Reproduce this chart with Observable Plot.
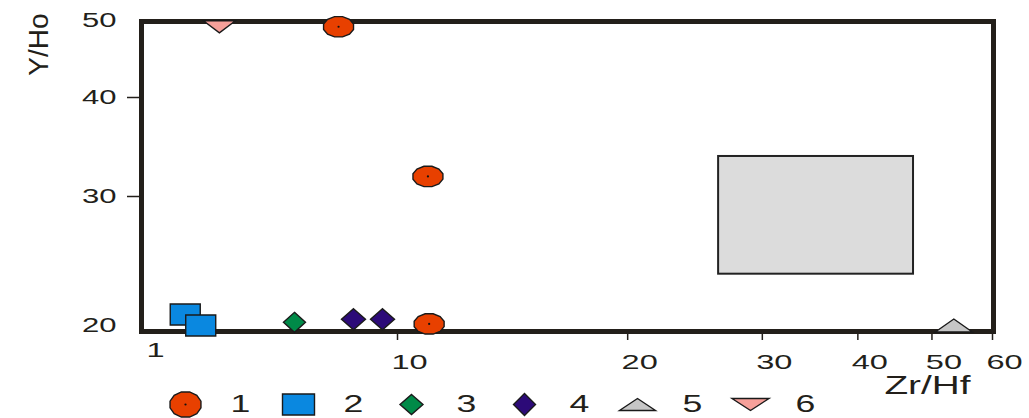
<!DOCTYPE html>
<html>
<head>
<meta charset="utf-8">
<script src="https://cdn.jsdelivr.net/npm/d3@7"></script>
<script src="https://cdn.jsdelivr.net/npm/@observablehq/plot@0.6"></script>
<style>
  body { margin: 0; background: #fff; }
  #wrap { position: relative; width: 1029px; height: 418px; overflow: hidden; }
  #legend { position: absolute; left: 0; top: 380px; }
</style>
</head>
<body>
<div id="wrap"><div id="main"></div><div id="legend"></div></div>
<script>
// ---- data ----
const seriesNames = ["1", "2", "3", "4", "5", "6"];
const zrHf1 = [5.86, 10.96, 11.0];
const yHo1  = [49.1, 31.8, 20.1];
const zrHf2 = [1.46, 1.68];
const yHo2  = [20.7, 20.0];
const zrHf3 = [3.93];
const yHo3  = [20.2];
const zrHf4 = [6.71, 8.73];
const yHo4  = [20.4, 20.4];
const zrHf5 = [53.4];
const yHo5  = [20.0];
const zrHf6 = [1.99];
const yHo6  = [49.1];
// grey reference field
const fieldZrHf = [26.3, 47.3];
const fieldYHo  = [23.5, 33.7];
// axis ticks
const xTickValues = [1, 10, 20, 30, 40, 50, 60];
const yTickValues = [20, 30, 40, 50];

// ---- symbols ----
function ellipseSym(w, h) {
  return {draw(ctx) {
    const n = 12;
    for (let i = 0; i < n; ++i) {
      const a = (2 * Math.PI * (i + 0.5)) / n;
      const x = (w / 2) * Math.cos(a), y = (h / 2) * Math.sin(a);
      i ? ctx.lineTo(x, y) : ctx.moveTo(x, y);
    }
    ctx.closePath();
  }};
}
function rectSym(w, h) {
  return {draw(ctx) { ctx.moveTo(-w/2, -h/2); ctx.lineTo(w/2, -h/2); ctx.lineTo(w/2, h/2); ctx.lineTo(-w/2, h/2); ctx.closePath(); }};
}
function diamondSym(w, h) {
  return {draw(ctx) { ctx.moveTo(0, -h/2); ctx.lineTo(w/2, 0); ctx.lineTo(0, h/2); ctx.lineTo(-w/2, 0); ctx.closePath(); }};
}
function triUpSym(w, h) {
  return {draw(ctx) { ctx.moveTo(0, -h/2); ctx.lineTo(w/2, h/2); ctx.lineTo(-w/2, h/2); ctx.closePath(); }};
}
function triDownSym(w, h) {
  return {draw(ctx) { ctx.moveTo(-w/2, -h/2); ctx.lineTo(w/2, -h/2); ctx.lineTo(0, h/2); ctx.closePath(); }};
}

const styles = {
  "1": {fill: "#e84000", sym: ellipseSym(31, 21), lsym: ellipseSym(32, 26)},
  "2": {fill: "#0a88e0", sym: rectSym(30, 21), lsym: rectSym(32, 21)},
  "3": {fill: "#008a48", sym: diamondSym(22, 20), lsym: diamondSym(23, 20)},
  "4": {fill: "#2c0a78", sym: diamondSym(24, 21), lsym: diamondSym(22, 22)},
  "5": {fill: "#c6c6c6", sym: triUpSym(37, 13), lsym: triUpSym(36, 12)},
  "6": {fill: "#f6a09a", sym: triDownSym(32, 12), lsym: triDownSym(37, 12)}
};

const xs = [zrHf1, zrHf2, zrHf3, zrHf4, zrHf5, zrHf6];
const ys = [yHo1, yHo2, yHo3, yHo4, yHo5, yHo6];
const series = seriesNames.map((name, k) => ({
  name, rows: xs[k].map((x, i) => ({zrHf: x, yHo: ys[k][i]}))
}));
const field = [{x1: fieldZrHf[0], x2: fieldZrHf[1], y1: fieldYHo[0], y2: fieldYHo[1]}];

const ink = "#231f1a";
const font = "'Liberation Sans', Arial, sans-serif";

const main = Plot.plot({
  width: 1029,
  height: 418,
  marginLeft: 141,
  marginRight: 36,
  marginTop: 21,
  marginBottom: 87,
  style: {fontFamily: font, color: ink, background: "white", overflow: "visible"},
  x: {type: "log", domain: [1, 10, 60], range: [143, 397, 992], axis: null},
  y: {type: "log", domain: [20, 30, 40, 50], range: [325, 196, 97, 20], axis: null},
  marks: [
    Plot.rect(field, {x1: "x1", x2: "x2", y1: "y1", y2: "y2", fill: "#dcdcdc", stroke: "#222", strokeWidth: 2}),
    Plot.frame({stroke: ink, strokeWidth: 5}),
    // y axis
    Plot.axisY([30, 40], {tickSize: 14, tickFormat: () => "", stroke: ink, strokeWidth: 1.5}),
    Plot.axisY(yTickValues, {tickSize: 0, tickPadding: 25, fontSize: 20, fill: ink, tickFormat: d => String(d)}),
    // x axis
    Plot.axisX(xTickValues.slice(1), {anchor: "bottom", tickSize: 9, tickFormat: () => "", stroke: ink, strokeWidth: 1.5}),
    Plot.axisX(xTickValues.slice(1), {anchor: "bottom", tickSize: 0, tickPadding: 23, dx: 12, fontSize: 21, fill: ink, tickFormat: d => String(d)}),
    Plot.axisX(xTickValues.slice(0, 1), {anchor: "bottom", tickSize: 0, tickPadding: 11, dx: 12, fontSize: 21, fill: ink, tickFormat: d => String(d)}),
    // axis titles
    Plot.text(["Zr/Hf"], {frameAnchor: "bottom-right", text: d => d, textAnchor: "end", dx: -23, dy: 62, fontSize: 25, fill: ink}),
    Plot.text(["Y/Ho"], {frameAnchor: "top-left", text: d => d, textAnchor: "middle", rotate: -90, dx: -113, dy: 23, fontSize: 28, fill: ink}),
    // data
    ...series.map(s => Plot.dot(s.rows, {x: "zrHf", y: "yHo", symbol: styles[s.name].sym, fill: styles[s.name].fill, stroke: "#1a1a1a", strokeWidth: 1.4})),
    Plot.dot(series[0].rows, {x: "zrHf", y: "yHo", r: 1.1, fill: "#111"})
  ]
});
document.getElementById("main").appendChild(main);

const legendRows = seriesNames.map(name => ({name}));
const legend = Plot.plot({
  width: 1029,
  height: 38,
  marginTop: 10,
  marginBottom: 0,
  marginLeft: 0,
  marginRight: 0,
  style: {fontFamily: font, color: ink, background: "transparent", overflow: "visible"},
  x: {type: "point", domain: seriesNames, range: [183, 752], padding: 0, axis: null},
  marks: [
    ...seriesNames.map(name => Plot.dot(legendRows.filter(d => d.name === name), {x: "name", frameAnchor: "middle", symbol: styles[name].lsym, fill: styles[name].fill, stroke: "#1a1a1a", strokeWidth: 1.4})),
    Plot.dot(legendRows.filter(d => d.name === "1"), {x: "name", frameAnchor: "middle", r: 1.1, fill: "#111"}),
    Plot.text(legendRows, {x: "name", frameAnchor: "middle", text: "name", dx: 55, fontSize: 23, fill: ink})
  ]
});
document.getElementById("legend").appendChild(legend);

// the reference's lettering is horizontally stretched (horizontal texts only)
function stretch(svg) {
  svg.querySelectorAll("text").forEach(t => {
    if ((t.getAttribute("transform") || "").includes("rotate")) return;
    const L = t.getComputedTextLength();
    if (!(L > 0)) return;
    t.setAttribute("textLength", L * 1.55);
    t.setAttribute("lengthAdjust", "spacingAndGlyphs");
  });
}
stretch(main);
stretch(legend);
</script>
</body>
</html>
